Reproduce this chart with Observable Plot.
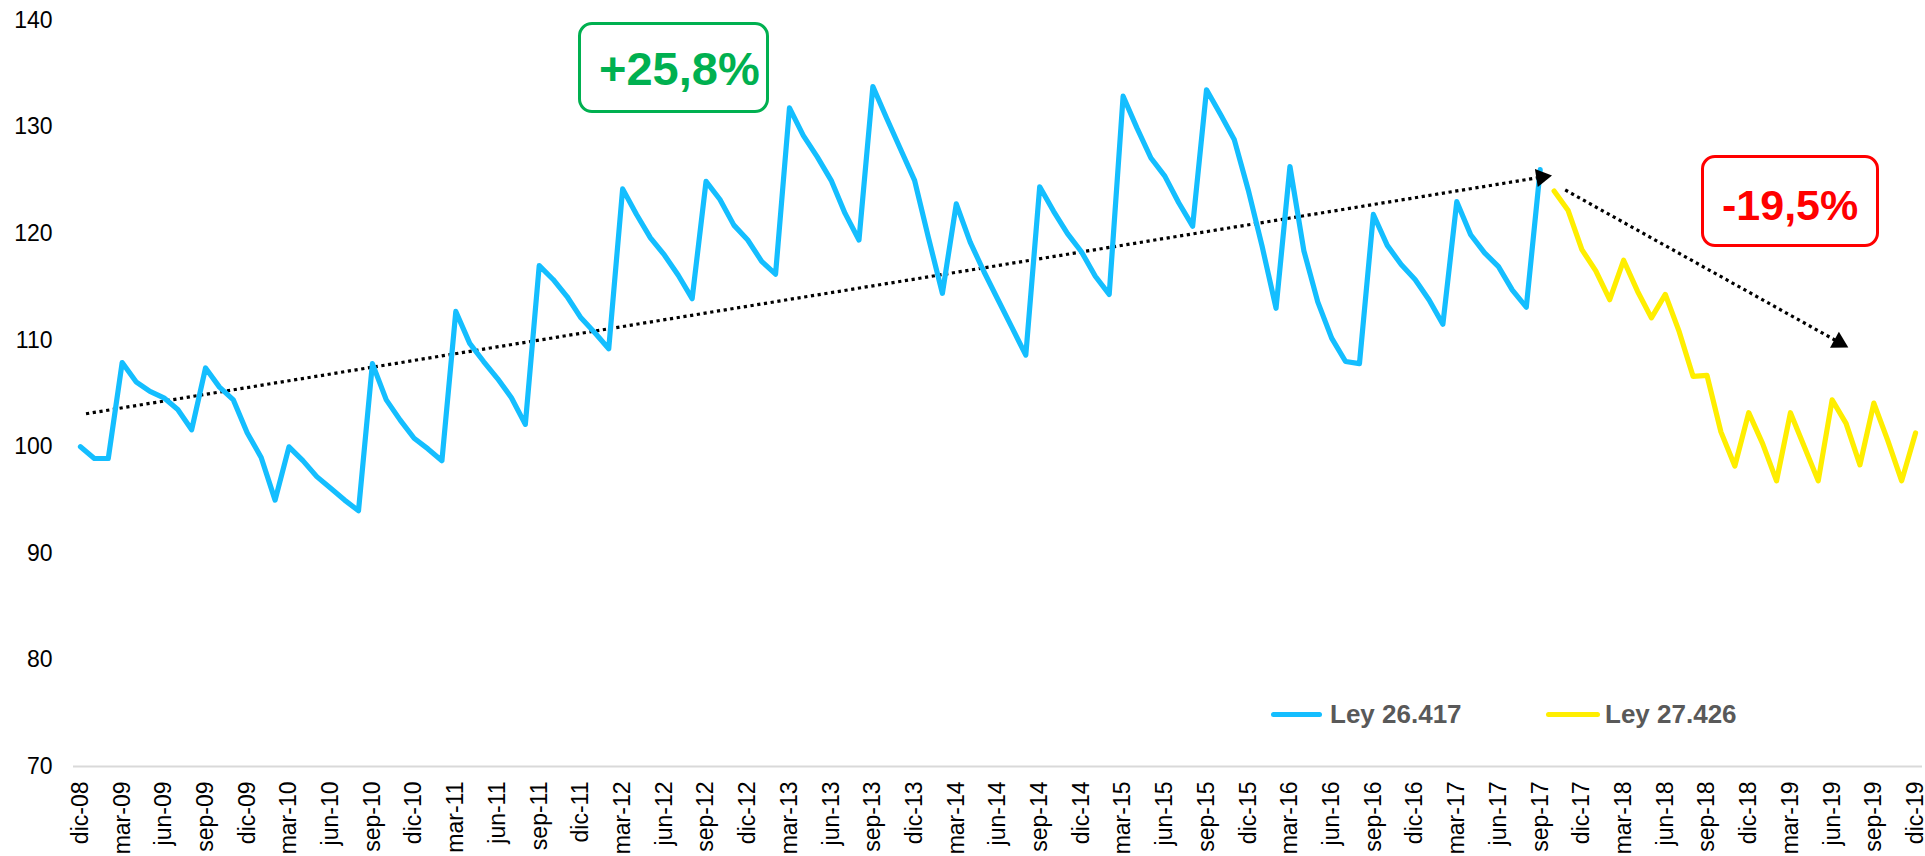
<!DOCTYPE html>
<html>
<head>
<meta charset="utf-8">
<script src="https://cdn.jsdelivr.net/npm/d3@7"></script>
<script src="https://cdn.jsdelivr.net/npm/@observablehq/plot@0.6"></script>
<style>
  html, body { margin: 0; padding: 0; background: #fff; overflow: hidden; }
  #wrap { position: relative; width: 1925px; height: 856px; font-family: "Liberation Sans", Arial, sans-serif; }
  #wrap svg { display: block; }
  .box { position: absolute; box-sizing: border-box; border-style: solid; border-width: 3px; border-radius: 14px; }
  .big { position: absolute; font-weight: bold; white-space: nowrap; }
  .sw { position: absolute; height: 5px; border-radius: 3px; }
  .lg { position: absolute; font-size: 26px; line-height: 26px; font-weight: bold; color: #595959; white-space: nowrap; }
</style>
</head>
<body>
<div id="wrap"></div>
<script>
// Tick labels (every third month, dic-08 .. dic-19)
const tickLabels = ["dic-08","mar-09","jun-09","sep-09","dic-09","mar-10","jun-10","sep-10","dic-10",
  "mar-11","jun-11","sep-11","dic-11","mar-12","jun-12","sep-12","dic-12","mar-13","jun-13","sep-13",
  "dic-13","mar-14","jun-14","sep-14","dic-14","mar-15","jun-15","sep-15","dic-15","mar-16","jun-16",
  "sep-16","dic-16","mar-17","jun-17","sep-17","dic-17","mar-18","jun-18","sep-18","dic-18","mar-19",
  "jun-19","sep-19","dic-19"];
const yTicks = [70, 80, 90, 100, 110, 120, 130, 140];

// Ley 26.417: monthly values, dic-08 .. sep-17
const ley26417 = [
  100.0, 98.9, 98.9, 107.9, 106.1, 105.2, 104.6, 103.5, 101.6, 107.4, 105.6, 104.4,
  101.3, 99.0, 95.0, 100.0, 98.7, 97.2, 96.1, 95.0, 94.0, 107.8, 104.4, 102.5,
  100.8, 99.8, 98.7, 112.7, 109.7, 108.0, 106.4, 104.6, 102.1, 117.0, 115.7, 114.1,
  112.1, 110.7, 109.2, 124.2, 121.8, 119.6, 118.0, 116.1, 113.9, 124.9, 123.2, 120.8,
  119.4, 117.4, 116.2, 131.8, 129.2, 127.2, 125.0, 121.9, 119.4, 133.8, 130.8, 127.9,
  125.0, 119.6, 114.4, 122.8, 119.2, 116.4, 113.8, 111.2, 108.6, 124.4, 122.1, 120.0,
  118.3, 116.0, 114.3, 132.9, 129.9, 127.1, 125.4, 122.9, 120.7, 133.5, 131.2, 128.8,
  124.1, 118.8, 113.0, 126.3, 118.4, 113.6, 110.2, 108.0, 107.8, 121.8, 118.9, 117.1,
  115.7, 113.8, 111.5, 123.0, 119.9, 118.2, 116.9, 114.7, 113.1, 126.0
];
// Ley 27.426: monthly values, oct-17 .. dic-19
const ley27426 = [
  124.0, 122.2, 118.5, 116.5, 113.8, 117.5, 114.6, 112.1, 114.3, 110.8, 106.6, 106.7,
  101.4, 98.2, 103.2, 100.3, 96.8, 103.2, 100.0, 96.8, 104.4, 102.2, 98.3, 104.1,
  100.6, 96.8, 101.3
];
// Trend arrows (month index, value)
const trendUp = [[0.4, 103.1], [105.1, 125.3]];
const trendDown = [[106.8, 124.1], [126.5, 109.8]];

const seriesNames = ["Ley 26.417", "Ley 27.426"];
const blue = "#14BEFF", yellow = "#FFEE00";

const blueData = ley26417.map((v, i) => ({i, v}));
const yellowData = ley27426.map((v, j) => ({i: j + ley26417.length, v}));
const nMonths = ley26417.length + ley27426.length;

const dotted = {stroke: "#000", strokeWidth: 3.2, strokeDasharray: "3.2,3.6", strokeLinecap: "butt"};

const chart = Plot.plot({
  width: 1925,
  height: 856,
  marginLeft: 73,
  marginRight: 3,
  marginTop: 20,
  marginBottom: 90,
  style: {fontFamily: '"Liberation Sans", Arial, sans-serif', fontSize: "23px", color: "#000", background: "#fff"},
  x: {domain: [-0.5, nMonths - 0.5]},
  y: {domain: [70, 140]},
  marks: [
    Plot.ruleY([70], {stroke: "#D9D9D9", strokeWidth: 2}),
    Plot.axisY({ticks: yTicks, tickSize: 0, tickPadding: 21, fontSize: 23, label: null}),
    Plot.axisX({ticks: tickLabels.map((_, k) => k * 3), tickFormat: d => tickLabels[d / 3],
      tickRotate: -90, tickSize: 0, tickPadding: 15, fontSize: 23, label: null}),
    Plot.line(trendUp, {x: d => d[0], y: d => d[1], ...dotted}),
    Plot.line(trendDown, {x: d => d[0], y: d => d[1], ...dotted}),
    Plot.line(blueData, {x: "i", y: "v", stroke: blue, strokeWidth: 5.2, strokeLinejoin: "round", strokeLinecap: "round"}),
    Plot.line(yellowData, {x: "i", y: "v", stroke: yellow, strokeWidth: 5.2, strokeLinejoin: "round", strokeLinecap: "round"}),
    Plot.dot([trendUp[1]], {x: d => d[0], y: d => d[1], symbol: "triangle", r: 6.8, fill: "#000", stroke: "none", rotate: 81}),
    Plot.dot([trendDown[1]], {x: d => d[0], y: d => d[1], symbol: "triangle", r: 6.8, fill: "#000", stroke: "none", rotate: 119})
  ]
});

const wrap = document.getElementById("wrap");
wrap.appendChild(chart);

function add(cls, style, text) {
  const el = document.createElement("div");
  el.className = cls;
  Object.assign(el.style, style);
  if (text) el.textContent = text;
  wrap.appendChild(el);
}
// annotation boxes
add("box", {left: "578px", top: "22px", width: "191px", height: "91px", borderColor: "#00B050"});
add("big", {left: "599px", top: "45px", fontSize: "47px", lineHeight: "47px", color: "#00B050"}, "+25,8%");
add("box", {left: "1701px", top: "155px", width: "178px", height: "92px", borderColor: "#FF0000"});
add("big", {left: "1722px", top: "183.5px", fontSize: "43px", lineHeight: "43px", color: "#FF0000"}, "-19,5%");
// legend
add("sw", {left: "1271px", top: "711.5px", width: "51px", background: blue});
add("lg", {left: "1330px", top: "701px"}, seriesNames[0]);
add("sw", {left: "1546px", top: "711.5px", width: "54px", background: yellow});
add("lg", {left: "1605px", top: "701px"}, seriesNames[1]);
</script>
</body>
</html>
